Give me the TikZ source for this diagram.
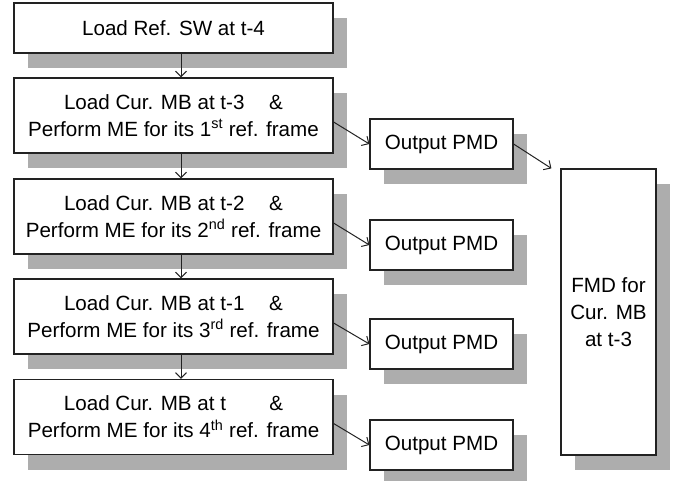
\documentclass[tikz,border=0pt]{standalone}
\usepackage{fontspec}
\setmainfont{Liberation Sans}
\usepackage{tikz}
\usetikzlibrary{shadows}
\usetikzlibrary{arrows.meta}

\definecolor{shadowgrey}{HTML}{ADADAD}
\definecolor{linegrey}{HTML}{222222}

\begin{document}
\begin{tikzpicture}
    [
    x=1pt, y=-1pt,
    >={Straight Barb[length=5.5pt,width=11pt]},
    stepbox/.style={rectangle, draw=linegrey, line width=1.2pt, fill=white, align=center,
      font=\fontsize{20.6}{27}\selectfont, inner sep=0pt,
      general shadow={fill=shadowgrey, shadow xshift=14pt, shadow yshift=-15pt}},
    mainbox/.style={stepbox, minimum width=319pt, minimum height=75pt},
    pmdbox/.style={stepbox, minimum width=143pt, minimum height=50pt},
    link/.style={->, draw=linegrey, line width=1pt},
    ]
    \useasboundingbox (0,0) rectangle (678,480);

    \node (ref) at (173.5,28) [mainbox, minimum height=50pt] {Load Ref. SW at t-4};
    \node (cur1) at (173.5,115.5) [mainbox] {Load Cur. MB at t-3\hspace{1.2em}\&\\Perform ME for its 1\textsuperscript{st} ref. frame};
    \node (cur2) at (173.5,216.5) [mainbox] {Load Cur. MB at t-2\hspace{1.2em}\&\\Perform ME for its 2\textsuperscript{nd} ref. frame};
    \node (cur3) at (173.5,316.5) [mainbox] {Load Cur. MB at t-1\hspace{1.2em}\&\\Perform ME for its 3\textsuperscript{rd} ref. frame};
    \node (cur4) at (173.5,417) [mainbox] {Load Cur. MB at t\hspace{2.1em}\&\\Perform ME for its 4\textsuperscript{th} ref. frame};

    \node (pmd1) at (441.5,144) [pmdbox] {Output PMD};
    \node (pmd2) at (441.5,245) [pmdbox] {Output PMD};
    \node (pmd3) at (441.5,344) [pmdbox] {Output PMD};
    \node (pmd4) at (441.5,445) [pmdbox] {Output PMD};

    \node (fmd) at (608.5,312) [stepbox, minimum width=95pt, minimum height=286pt] {FMD for\\Cur. MB\\at t-3};

    \draw [link] ([xshift=7.5pt]ref.south) to ([xshift=7.5pt]cur1.north);
    \draw [link] ([xshift=7.5pt]cur1.south) to ([xshift=7.5pt]cur2.north);
    \draw [link] ([xshift=7.5pt]cur2.south) to ([xshift=7.5pt]cur3.north);
    \draw [link] ([xshift=7.5pt]cur3.south) to ([xshift=7.5pt]cur4.north);

    \draw [link] ([yshift=-6.5pt]cur1.east) to (pmd1.west);
    \draw [link] ([yshift=-6.5pt]cur2.east) to (pmd2.west);
    \draw [link] ([yshift=-6.5pt]cur3.east) to (pmd3.west);
    \draw [link] ([yshift=-6.5pt]cur4.east) to (pmd4.west);

    \draw [link] (pmd1.east) to ([xshift=-9pt]fmd.north west);
\end{tikzpicture}
\end{document}
